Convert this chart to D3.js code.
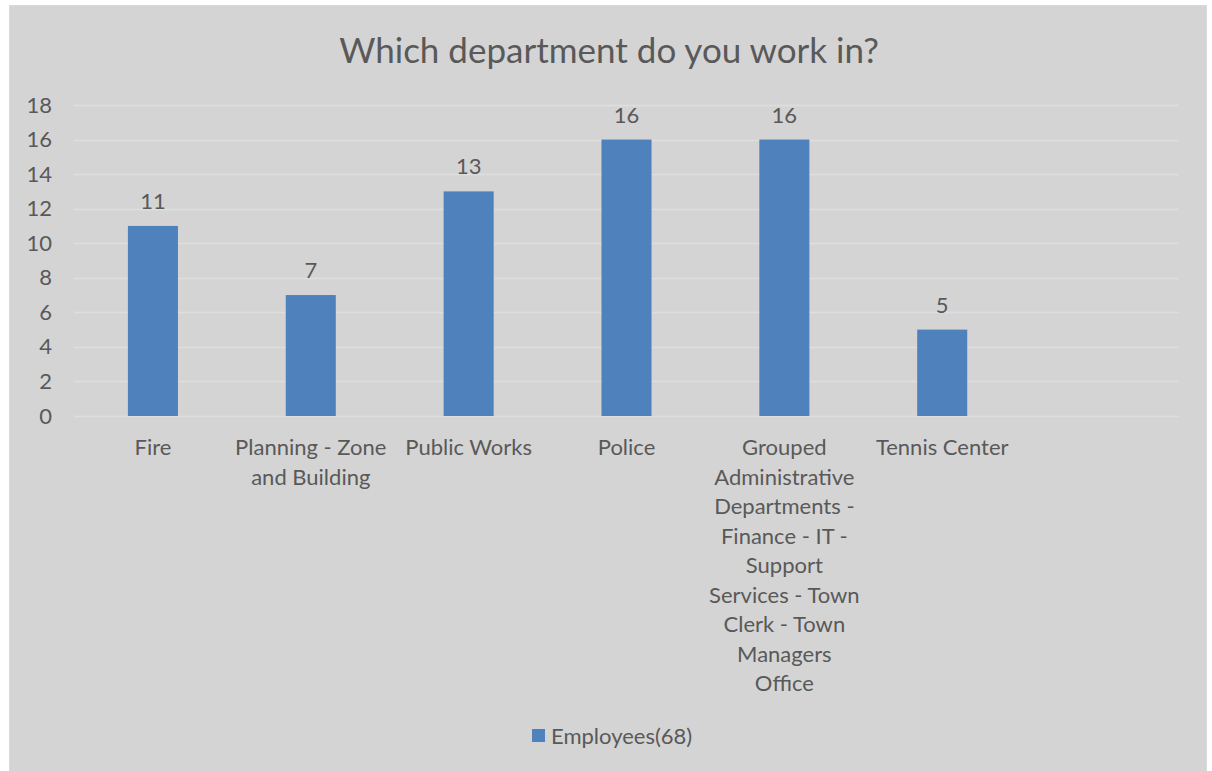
<!DOCTYPE html>
<html lang="en">
<head>
  <meta charset="utf-8">
  <title>Which department do you work in?</title>
  <script src="https://cdn.jsdelivr.net/npm/d3@7"></script>
  <style>
    body { margin: 0; background: #fff; }
    text { font-family: Lato, "Open Sans", sans-serif; fill: #595959; }
  </style>
</head>
<body>
  <script>
    // data
    var categories = ["Fire", "Planning - Zone and Building", "Public Works", "Police",
      "Grouped Administrative Departments - Finance - IT - Support Services - Town Clerk - Town Managers Office",
      "Tennis Center", ""];
    var labelLines = [
      ["Fire"],
      ["Planning - Zone", "and Building"],
      ["Public Works"],
      ["Police"],
      ["Grouped", "Administrative", "Departments -", "Finance - IT -", "Support", "Services - Town", "Clerk - Town", "Managers", "Office"],
      ["Tennis Center"],
      [""]
    ];
    var values = [11, 7, 13, 16, 16, 5, null];
    var yTicks = [0, 2, 4, 6, 8, 10, 12, 14, 16, 18];
    var seriesName = "Employees(68)";

    var w = 1212;
    var h = 771;
    var margin = { top: 105, left: 74, right: 33, bottom: 355 };
    var width = w - margin.left - margin.right;
    var height = h - margin.top - margin.bottom;

    var svg = d3.select("body").append("svg")
                .attr("width", w)
                .attr("height", h);

    svg.append("rect")
       .attr("x", 9.5).attr("y", 5.5)
       .attr("width", 1197).attr("height", 770)
       .attr("fill", "#d4d4d4")
       .attr("stroke", "#d9d9d9");

    svg.append("text")
       .attr("x", 609).attr("y", 63)
       .attr("text-anchor", "middle")
       .style("font-size", "35px")
       .text("Which department do you work in?");

    var chart = svg.append("g")
                   .attr("transform", "translate(" + margin.left + "," + margin.top + ")");

    var x = d3.scaleBand()
              .domain(d3.range(categories.length))
              .range([0, width])
              .paddingInner(0.683)
              .paddingOuter(0.3415);
    var y = d3.scaleLinear()
              .domain([0, 18])
              .range([height, 0]);

    // gridlines
    chart.append("g")
         .selectAll("line")
         .data(yTicks)
         .enter()
           .append("line")
           .attr("x1", 0).attr("x2", width)
           .attr("y1", function (d) { return Math.round(y(d)) + 0.5; })
           .attr("y2", function (d) { return Math.round(y(d)) + 0.5; })
           .attr("stroke", "#dedede")
           .attr("stroke-width", 1.5);

    var yAxis = d3.axisLeft(y).tickValues(yTicks).tickSize(0).tickPadding(22);
    var gy = chart.append("g").call(yAxis);
    gy.select(".domain").remove();
    gy.selectAll("text").style("font-size", "22px").attr("fill", "#595959");

    // bars
    var bars = values.map(function (v, i) { return { i: i, v: v }; })
                     .filter(function (d) { return d.v !== null; });
    chart.selectAll(".bar")
         .data(bars)
         .enter()
           .append("rect")
           .classed("bar", true)
           .attr("x", function (d) { return x(d.i); })
           .attr("width", x.bandwidth())
           .attr("y", function (d) { return y(d.v); })
           .attr("height", function (d) { return height - y(d.v); })
           .attr("fill", "#4f81bd");

    chart.selectAll(".value")
         .data(bars)
         .enter()
           .append("text")
           .classed("value", true)
           .attr("x", function (d) { return x(d.i) + x.bandwidth() / 2; })
           .attr("y", function (d) { return y(d.v) - 17; })
           .attr("text-anchor", "middle")
           .style("font-size", "22px")
           .text(function (d) { return d.v; });

    // category labels
    var cat = chart.selectAll(".cat")
                   .data(labelLines)
                   .enter()
                     .append("text")
                     .classed("cat", true)
                     .attr("text-anchor", "middle")
                     .style("font-size", "22px")
                     .attr("transform", function (d, i) {
                       return "translate(" + (x(i) + x.bandwidth() / 2) + "," + (height + 39) + ")";
                     });
    cat.selectAll("tspan")
       .data(function (d) { return d; })
       .enter()
         .append("tspan")
         .attr("x", 0)
         .attr("y", function (d, i) { return i * 29.5; })
         .text(function (d) { return d; });

    // legend
    var legend = svg.append("g").attr("transform", "translate(532,729)");
    legend.append("rect")
          .attr("width", 13).attr("height", 13)
          .attr("fill", "#4f81bd");
    legend.append("text")
          .attr("x", 19).attr("y", 14.5)
          .style("font-size", "22px")
          .text(seriesName);
  </script>
</body>
</html>
